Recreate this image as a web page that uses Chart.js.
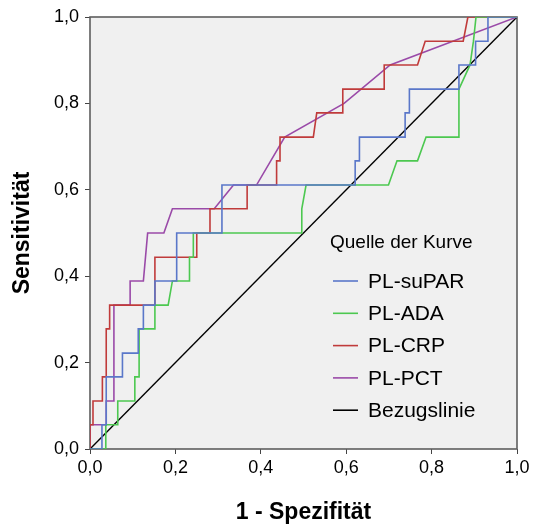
<!DOCTYPE html>
<html lang="de">
<head>
<meta charset="utf-8">
<title>ROC-Kurve</title>
<script src="https://cdn.jsdelivr.net/npm/chart.js@4.4.1/dist/chart.umd.min.js"></script>
<style>
  html, body { margin: 0; padding: 0; background: #fff; }
  #rocChart { display: block; }
</style>
</head>
<body>
<canvas id="rocChart" width="534" height="526"></canvas>
<script>
// --- 1. DATA ---
const curveLabels = ['PL-suPAR', 'PL-ADA', 'PL-CRP', 'PL-PCT', 'Bezugslinie'];
const curveColors = ['#5a77c9', '#4cc850', '#c03b3b', '#9a4aa8', '#000000'];
const legendTitle = 'Quelle der Kurve';
const tickLabels = ['0,0', '0,2', '0,4', '0,6', '0,8', '1,0'];

// 1 - Spezifität / Sensitivität pairs
const suparX = [0, 0.028, 0.028, 0.038, 0.038, 0.076, 0.076, 0.113, 0.113, 0.125, 0.125, 0.152, 0.152, 0.203, 0.203, 0.309, 0.309, 0.621, 0.621, 0.631, 0.631, 0.738, 0.738, 0.748, 0.748, 0.864, 0.864, 0.903, 0.903, 0.932, 0.932, 1];
const suparY = [0, 0, 0.056, 0.056, 0.167, 0.167, 0.222, 0.222, 0.278, 0.278, 0.333, 0.333, 0.389, 0.389, 0.5, 0.5, 0.611, 0.611, 0.667, 0.667, 0.722, 0.722, 0.778, 0.778, 0.833, 0.833, 0.889, 0.889, 0.944, 0.944, 1, 1];

const adaX = [0, 0.037, 0.037, 0.065, 0.065, 0.105, 0.105, 0.115, 0.115, 0.152, 0.152, 0.183, 0.193, 0.233, 0.233, 0.242, 0.242, 0.496, 0.496, 0.506, 0.699, 0.719, 0.767, 0.787, 0.864, 0.864, 0.89, 0.898, 0.904, 1];
const adaY = [0, 0, 0.056, 0.056, 0.111, 0.111, 0.167, 0.167, 0.278, 0.278, 0.333, 0.333, 0.389, 0.389, 0.444, 0.444, 0.5, 0.5, 0.556, 0.611, 0.611, 0.667, 0.667, 0.722, 0.722, 0.833, 0.889, 0.944, 1, 1];

const crpX = [0, 0, 0.007, 0.007, 0.029, 0.029, 0.038, 0.038, 0.046, 0.046, 0.152, 0.152, 0.25, 0.25, 0.281, 0.281, 0.368, 0.368, 0.437, 0.437, 0.445, 0.445, 0.523, 0.531, 0.592, 0.592, 0.689, 0.689, 0.767, 0.785, 0.874, 0.885, 1];
const crpY = [0, 0.056, 0.056, 0.111, 0.111, 0.167, 0.167, 0.278, 0.278, 0.333, 0.333, 0.444, 0.444, 0.5, 0.5, 0.556, 0.556, 0.611, 0.611, 0.667, 0.667, 0.722, 0.722, 0.778, 0.778, 0.833, 0.833, 0.889, 0.889, 0.944, 0.944, 1, 1];

const pctX = [0, 0, 0.038, 0.038, 0.056, 0.056, 0.094, 0.094, 0.125, 0.135, 0.173, 0.193, 0.291, 0.336, 0.39, 0.456, 0.595, 0.703, 1];
const pctY = [0, 0.056, 0.056, 0.111, 0.111, 0.333, 0.333, 0.389, 0.389, 0.5, 0.5, 0.556, 0.556, 0.611, 0.611, 0.722, 0.8, 0.889, 1];

const refX = [0, 1];
const refY = [0, 1];

const toPoints = (xs, ys) => xs.map((x, i) => ({ x: x, y: ys[i] }));
const curves = [[suparX, suparY], [adaX, adaY], [crpX, crpY], [pctX, pctY], [refX, refY]];

// --- 2. PLUGINS ---
const FONT = "'Liberation Sans', Arial, sans-serif";

// grey plot background plus dark frame
const plotFrame = {
    id: 'plotFrame',
    beforeDraw(chart) {
        const { ctx, chartArea: a } = chart;
        ctx.save();
        ctx.fillStyle = '#f0f0f0';
        ctx.fillRect(a.left, a.top, a.width, a.height);
        ctx.restore();
    },
    beforeDatasetsDraw(chart) {
        const { ctx, chartArea: a } = chart;
        ctx.save();
        ctx.strokeStyle = '#5e5e5e';
        ctx.lineWidth = 1.6;
        ctx.strokeRect(a.left, a.top, a.width, a.height);
        ctx.restore();
    }
};

// legend box inside the plot, lower right
const innerLegend = {
    id: 'innerLegend',
    afterDatasetsDraw(chart) {
        const ctx = chart.ctx;
        ctx.save();
        ctx.textBaseline = 'middle';
        ctx.fillStyle = '#000';
        ctx.font = '19px ' + FONT;
        ctx.fillText(legendTitle, 330, 243);
        ctx.font = '21px ' + FONT;
        chart.data.datasets.forEach((ds, i) => {
            const y = 281 + i * 32.3;
            ctx.strokeStyle = ds.borderColor;
            ctx.lineWidth = 1.6;
            ctx.beginPath();
            ctx.moveTo(333, y);
            ctx.lineTo(358, y);
            ctx.stroke();
            ctx.fillStyle = '#000';
            ctx.fillText(ds.label, 368, y + 1);
        });
        ctx.restore();
    }
};

// --- 3. CHART ---
const ctx = document.getElementById('rocChart').getContext('2d');

const chart = new Chart(ctx, {
    type: 'scatter',
    data: {
        datasets: curves.map((c, i) => ({
            label: curveLabels[i],
            data: toPoints(c[0], c[1]),
            showLine: true,
            borderColor: curveColors[i],
            backgroundColor: curveColors[i],
            borderWidth: i === 4 ? 1.4 : 1.6,
            pointRadius: 0,
            tension: 0
        }))
    },
    options: {
        responsive: false,
        animation: false,
        layout: { padding: { top: 17, right: 17, bottom: 0, left: 0 } },
        plugins: {
            legend: { display: false },
            tooltip: { enabled: false }
        },
        scales: {
            x: {
                type: 'linear',
                min: 0,
                max: 1,
                afterFit(scale) { scale.height = 77; },
                ticks: {
                    stepSize: 0.2,
                    color: '#000',
                    padding: 3,
                    font: { family: FONT, size: 18 },
                    callback: (v, i) => tickLabels[i]
                },
                grid: { drawOnChartArea: false, tickLength: 5, color: '#444', lineWidth: 1 },
                border: { display: false },
                title: {
                    display: true,
                    text: '1 - Spezifität',
                    color: '#000',
                    font: { family: FONT, size: 23, weight: 'bold' },
                    padding: { top: 0, bottom: 0 }
                }
            },
            y: {
                type: 'linear',
                min: 0,
                max: 1,
                afterFit(scale) { scale.width = 90; },
                ticks: {
                    stepSize: 0.2,
                    color: '#000',
                    padding: 6,
                    font: { family: FONT, size: 18 },
                    callback: (v, i) => tickLabels[i]
                },
                grid: { drawOnChartArea: false, tickLength: 5, color: '#444', lineWidth: 1 },
                border: { display: false },
                title: {
                    display: true,
                    text: 'Sensitivität',
                    color: '#000',
                    font: { family: FONT, size: 23, weight: 'bold' },
                    padding: { top: 9, bottom: 0 }
                }
            }
        }
    },
    plugins: [plotFrame, innerLegend]
});
</script>
</body>
</html>
